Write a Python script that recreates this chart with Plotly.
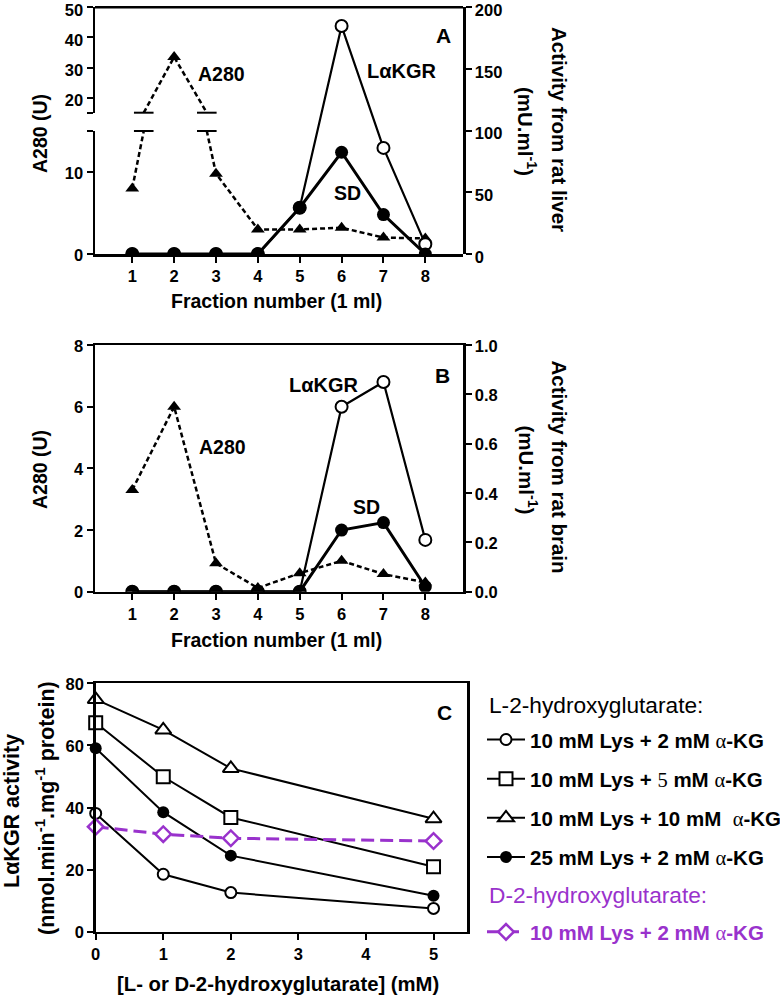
import numpy as np
import plotly.graph_objects as go

W, H = 780, 995

# ---------------- data ----------------
fractions = [1, 2, 3, 4, 5, 6, 7, 8]
liver_a280 = [8.0, 33.5, 9.8, 3.0, 3.0, 3.2, 2.0, 1.9]
liver_lakgr = [0, 0, 0, 0, 37.5, 184.8, 86.0, 8.0]
liver_sd = [0, 0, 0, 0, 37.5, 82.5, 32.0, 0]

brain_a280 = [3.3, 6.0, 0.92, 0.12, 0.6, 1.0, 0.57, 0.3]
brain_lakgr = [0, 0, 0, 0, 0, 0.75, 0.85, 0.21]
brain_sd = [0, 0, 0, 0, 0, 0.25, 0.28, 0.02]

conc = [0, 1, 2, 5]
lys10_akg2 = [38.1, 18.5, 12.6, 7.5]
lys10_akg5 = [67.3, 49.9, 36.8, 20.9]
lys10_akg10 = [74.8, 65.0, 52.6, 36.4]
lys25_akg2 = [59.1, 38.5, 24.5, 11.6]
d2hg_lys10_akg2 = [33.8, 31.4, 30.1, 29.2]

liver_left_low_ticks = [0, 10, 15]
liver_left_high_ticks = [15, 20, 30, 40, 50]
liver_right_ticks = [0, 50, 100, 150, 200]
brain_left_ticks = [0, 2, 4, 6, 8]
brain_right_ticks = [0, 0.2, 0.4, 0.6, 0.8, 1.0]
c_x_ticks = [0, 1, 2, 3, 4, 5]
c_y_ticks = [0, 20, 40, 60, 80]
BREAK = 15

# ---------------- style ----------------
FONT = "Liberation Sans, Arial, sans-serif"
SERIF = "Liberation Serif"
PURPLE = "#9932CC"


def px(x):
    return x / W


def py(y):
    return 1 - y / H


def axis_common(**kw):
    d = dict(showline=True, linecolor="black", linewidth=2.5, ticks="outside",
             ticklen=6, tickwidth=2, tickcolor="black", showgrid=False,
             zeroline=False, fixedrange=True, automargin=False,
             ticklabeloverflow="allow",
             tickfont=dict(family=FONT, size=16.5, color="black", weight="bold"))
    d.update(kw)
    return d


fig = go.Figure()

dash_short = "5px,3px"

# ---------------- panel A ----------------
for ya in ["y", "y2"]:
    fig.add_trace(go.Scatter(
        x=fractions, y=liver_a280, xaxis="x", yaxis=ya, mode="lines+markers",
        line=dict(color="black", width=2.5, dash=dash_short),
        marker=dict(symbol="triangle-up", size=12, color="black"),
        cliponaxis=True, showlegend=False, hoverinfo="skip"))

# break marks where the A280 line crosses the axis break
a = np.array(liver_a280, dtype=float)
f = np.array(fractions, dtype=float)
cross_x = []
for i in range(len(a) - 1):
    if (a[i] - BREAK) * (a[i + 1] - BREAK) < 0:
        cross_x.append(f[i] + (BREAK - a[i]) / (a[i + 1] - a[i]) * (f[i + 1] - f[i]))
for ya in ["y", "y2"]:
    fig.add_trace(go.Scatter(
        x=cross_x, y=[BREAK] * len(cross_x), xaxis="x", yaxis=ya, mode="markers",
        marker=dict(symbol="line-ew", size=14, line=dict(color="black", width=2)),
        cliponaxis=False, showlegend=False, hoverinfo="skip"))

fig.add_trace(go.Scatter(
    x=fractions, y=liver_lakgr, xaxis="x", yaxis="y3", mode="lines+markers",
    line=dict(color="black", width=2.2),
    marker=dict(symbol="circle", size=12, color="white", line=dict(color="black", width=2)),
    cliponaxis=True, showlegend=False, hoverinfo="skip"))
fig.add_trace(go.Scatter(
    x=fractions, y=liver_sd, xaxis="x", yaxis="y3", mode="lines+markers",
    line=dict(color="black", width=3),
    marker=dict(symbol="circle", size=13, color="black"),
    cliponaxis=True, showlegend=False, hoverinfo="skip"))

# ---------------- panel B ----------------
fig.add_trace(go.Scatter(
    x=fractions, y=brain_a280, xaxis="x2", yaxis="y4", mode="lines+markers",
    line=dict(color="black", width=2.5, dash=dash_short),
    marker=dict(symbol="triangle-up", size=12, color="black"),
    cliponaxis=True, showlegend=False, hoverinfo="skip"))
fig.add_trace(go.Scatter(
    x=fractions, y=brain_lakgr, xaxis="x2", yaxis="y5", mode="lines+markers",
    line=dict(color="black", width=2.2),
    marker=dict(symbol="circle", size=12, color="white", line=dict(color="black", width=2)),
    cliponaxis=True, showlegend=False, hoverinfo="skip"))
fig.add_trace(go.Scatter(
    x=fractions, y=brain_sd, xaxis="x2", yaxis="y5", mode="lines+markers",
    line=dict(color="black", width=3),
    marker=dict(symbol="circle", size=13, color="black"),
    cliponaxis=True, showlegend=False, hoverinfo="skip"))

# ---------------- panel C ----------------
ALPHA = "<span style='font-family:%s;font-weight:normal'>&#945;</span>" % SERIF
FIVE = "<span style='font-family:%s;font-weight:normal'>5</span>" % SERIF
c_series = [
    (lys10_akg2, "10 mM Lys + 2 mM " + ALPHA + "-KG",
     dict(symbol="circle", size=11, color="white", line=dict(color="black", width=2)), "g1"),
    (lys10_akg5, "10 mM Lys + " + FIVE + " mM " + ALPHA + "-KG",
     dict(symbol="square", size=13, color="white", line=dict(color="black", width=2)), "g2"),
    (lys10_akg10, "10 mM Lys + 10 mM  " + ALPHA + "-KG",
     dict(symbol="triangle-up", size=14, color="white", line=dict(color="black", width=2)), "g3"),
    (lys25_akg2, "25 mM Lys + 2 mM " + ALPHA + "-KG",
     dict(symbol="circle", size=12, color="black"), "g4"),
]
for vals, name, mk, grp in c_series:
    fig.add_trace(go.Scatter(
        x=conc, y=vals, xaxis="x3", yaxis="y6", mode="lines+markers", name=name,
        line=dict(color="black", width=2), marker=mk, cliponaxis=False,
        legend="legend", legendgroup=grp, hoverinfo="skip"))

fig.add_trace(go.Scatter(
    x=conc, y=d2hg_lys10_akg2, xaxis="x3", yaxis="y6", mode="lines+markers",
    name="10 mM Lys + 2 mM " + ALPHA + "-KG",
    line=dict(color=PURPLE, width=3, dash="13px,6px"),
    marker=dict(symbol="diamond", size=12, color="white", line=dict(color=PURPLE, width=2.5)),
    cliponaxis=False, legend="legend2", legendgroup="g5", hoverinfo="skip"))


# ---------------- annotations ----------------
annotations = []


def ann(text, x, y, size=19.5, angle=0, color="black", bold=True, xanchor="center"):
    annotations.append(dict(
        text=text, x=px(x), y=py(y), xref="paper", yref="paper",
        xanchor=xanchor, yanchor="middle", showarrow=False, textangle=angle,
        borderpad=0,
        font=dict(family=FONT, size=size, color=color, weight="bold" if bold else "normal")))


# Panel A
ann("A280 (U)", 40, 134, angle=-90)
ann("Activity from rat liver", 559, 129, size=20.5, angle=90)
ann("(mU.ml<sup>-1</sup>)", 527, 131, size=20.5, angle=90)
ann("Fraction number (1 ml)", 276.5, 301)
ann("A280", 221, 74)
ann("L&#945;KGR", 402, 71, size=20)
ann("SD", 347, 193)
ann("A", 443.5, 36, size=21)

# Panel B
ann("A280 (U)", 40, 470, angle=-90)
ann("Activity from rat brain", 559, 466.5, size=20.5, angle=90)
ann("(mU.ml<sup>-1</sup>)", 527, 469.5, size=20.5, angle=90)
ann("Fraction number (1 ml)", 276.5, 640)
ann("L&#945;KGR", 324, 385, size=20)
ann("A280", 222.5, 447)
ann("SD", 366.5, 506.5)
ann("B", 442.5, 375.5, size=21)

# Panel C
ann("L&#945;KGR activity", 12, 811, size=21.5, angle=-90)
ann("(nmol.min<sup>-1</sup>.mg<sup>-1</sup> protein)", 45, 808, size=21.5, angle=-90)
ann("[L- or D-2-hydroxyglutarate] (mM)", 278, 984, size=20.3)
ann("C", 444.5, 712, size=21)
ann("L-2-hydroxyglutarate:", 488, 705, size=22.7, bold=False, xanchor="left")
ann("D-2-hydroxyglutarate:", 488, 895, size=22.7, bold=False, color=PURPLE, xanchor="left")

# ---------------- layout ----------------
xA = [px(95), px(463)]
fig.update_layout(
    template="none",
    width=W, height=H, autosize=False,
    margin=dict(l=0, r=0, t=0, b=0, pad=0, autoexpand=False),
    paper_bgcolor="white", plot_bgcolor="rgba(0,0,0,0)",
    hovermode=False,
    font=dict(family=FONT, color="black"),
    xaxis=axis_common(domain=xA, range=[0.11, 8.9], tickvals=fractions, anchor="y"),
    yaxis=axis_common(domain=[py(254), py(131)], range=[0, BREAK],
                      tickvals=liver_left_low_ticks,
                      ticktext=[str(v) for v in liver_left_low_ticks[:-1]] + [""],
                      anchor="x", ticklabelshift=1),
    yaxis2=axis_common(domain=[py(112.7), py(7.3)], range=[BREAK, 50],
                       tickvals=liver_left_high_ticks,
                       ticktext=[""] + [str(v) for v in liver_left_high_ticks[1:]],
                       anchor="x", ticklabelshift=3),
    yaxis3=axis_common(domain=[py(254), py(7.3)], range=[0, 200],
                       tickvals=liver_right_ticks, side="right", anchor="x",
                       ticklabelshift=3),
    xaxis2=axis_common(domain=xA, range=[0.11, 8.9], tickvals=fractions,
                       anchor="y4", mirror=True),
    yaxis4=axis_common(domain=[py(591.7), py(345)], range=[0, 8],
                       tickvals=brain_left_ticks, anchor="x2", ticklabelshift=1),
    yaxis5=axis_common(overlaying="y4", side="right", anchor="x2", range=[0, 1],
                       tickvals=brain_right_ticks, tickformat=".1f", ticklabelshift=1),
    xaxis3=axis_common(domain=[px(95.7), px(467.3)], range=[0, 5.5],
                       tickvals=c_x_ticks, anchor="y6", mirror=True),
    yaxis6=axis_common(domain=[py(931.7), py(683.3)], range=[0, 80],
                       tickvals=c_y_ticks, anchor="x3", mirror=True, ticklabelshift=1),
    shapes=[dict(type="line", xref="x domain", yref="y2 domain", x0=0, x1=1, y0=1, y1=1,
                 line=dict(color="black", width=2.5))],
    annotations=annotations,
    legend=dict(x=px(482), y=py(741.7 - 22), xanchor="left", yanchor="top",
                font=dict(family=FONT, size=20.5, color="black", weight="bold"),
                itemwidth=38, tracegroupgap=9.5, bgcolor="rgba(0,0,0,0)", borderwidth=0),
    legend2=dict(x=px(482), y=py(934 - 22), xanchor="left", yanchor="top",
                 font=dict(family=FONT, size=20.5, color=PURPLE, weight="bold"),
                 itemwidth=38, bgcolor="rgba(0,0,0,0)", borderwidth=0),
)

fig.write_html("out.html", config={"displayModeBar": False, "staticPlot": True},
               post_script="document.body.style.margin='0px';document.body.style.overflow='hidden';")
